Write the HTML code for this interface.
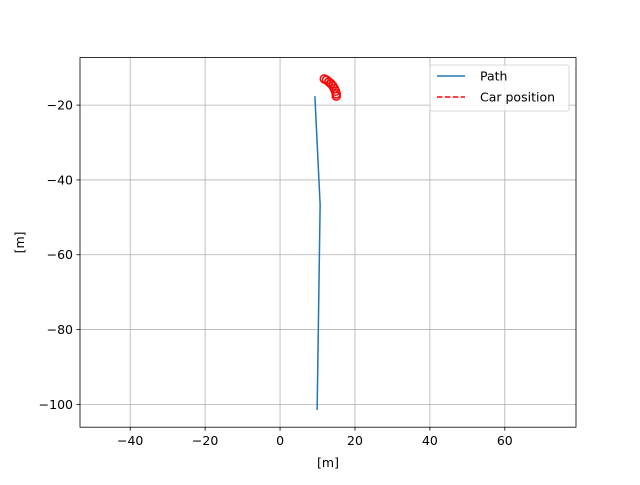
<!DOCTYPE html>
<html><head><meta charset="utf-8"><style>
body{margin:0;background:#fff;font-family:"Liberation Sans",sans-serif;}
text{font-family:"DejaVu Sans","Liberation Sans",sans-serif;font-size:12.5px;fill:#000}
</style></head><body>
<svg id="chart" width="640" height="480"></svg>
<script>
const xTicks=[-40,-20,0,20,40,60];
const yTicks=[-20,-40,-60,-80,-100];
const pathX=[9.3,10.7,9.9];
const pathY=[-17.6,-46.7,-101.5];
const carX=[11.8,12.4,13.0,13.6,14.1,14.5,14.8,15.0,15.0];
const carY=[-13.0,-13.3,-13.8,-14.3,-14.9,-15.6,-16.3,-17.0,-17.6];
const L=80,R=576,T=57.6,B=427.2,xmin=-53.4,xmax=79.0,ymin=-106.1,ymax=-7.3;
const sx=v=>L+(v-xmin)/(xmax-xmin)*(R-L);
const sy=v=>B-(v-ymin)/(ymax-ymin)*(B-T);
const svg=document.getElementById('chart');
const NS='http://www.w3.org/2000/svg';
function mk(t,a,p){const e=document.createElementNS(NS,t);for(const k in a)e.setAttribute(k,a[k]);(p||svg).appendChild(e);return e;}
xTicks.forEach(v=>{const x=sx(v);
const g=mk('line',{x1:x,x2:x,y1:T,y2:B,stroke:'#b0b0b0','stroke-width':0.8});


mk('line',{x1:x,x2:x,y1:B,y2:B+3.5,stroke:'#000','stroke-width':0.8});
const t=mk('text',{x:x,y:B+18,'text-anchor':'middle'});t.textContent=String(v).replace('-','−');

});
yTicks.forEach(v=>{const y=sy(v);
const g=mk('line',{x1:L,x2:R,y1:y,y2:y,stroke:'#b0b0b0','stroke-width':0.8});


mk('line',{x1:L-3.5,x2:L,y1:y,y2:y,stroke:'#000','stroke-width':0.8});
const t=mk('text',{x:L-7,y:y+4.5,'text-anchor':'end'});t.textContent=String(v).replace('-','−');

});
const p=mk('polyline',{points:pathX.map((x,i)=>sx(x)+','+sy(pathY[i])).join(' '),fill:'none',stroke:'#1f77b4','stroke-width':1.5});


carX.forEach((x,i)=>{const c=mk('circle',{cx:sx(x),cy:sy(carY[i]),r:4,fill:'none',stroke:'#ff0000','stroke-width':1.5});

});
const f=mk('rect',{x:L,y:T,width:R-L,height:B-T,fill:'none',stroke:'#000','stroke-width':0.8});


const xl=mk('text',{x:(L+R)/2,y:467,'text-anchor':'middle'});xl.textContent='[m]';


const yl=mk('text',{x:0,y:0,'text-anchor':'middle',transform:'translate(24,'+((T+B)/2)+') rotate(-90)'});yl.textContent='[m]';


const lg=mk('g',{});


mk('rect',{x:430,y:65,width:139,height:46,rx:2,fill:'#fff','fill-opacity':0.8,stroke:'#ccc','stroke-width':0.8},lg);
mk('line',{x1:437,x2:465,y1:76,y2:76,stroke:'#1f77b4','stroke-width':1.5},lg);
const t1=mk('text',{x:480,y:80.5},lg);t1.textContent='Path';


mk('line',{x1:437,x2:465,y1:97,y2:97,stroke:'#ff0000','stroke-width':1.5,'stroke-dasharray':'5.5,2.4'},lg);
const t2=mk('text',{x:480,y:101.5},lg);t2.textContent='Car position';


</script>
</body></html>
